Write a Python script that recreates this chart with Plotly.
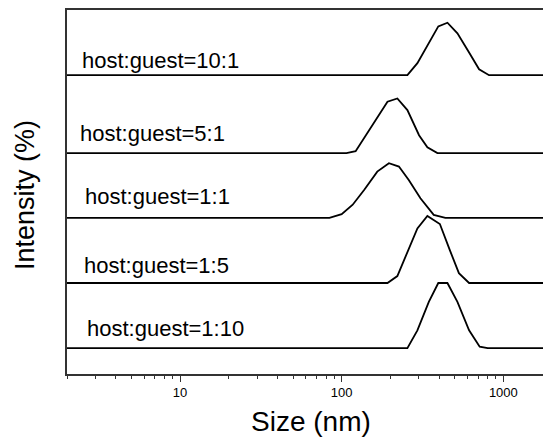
import plotly.graph_objects as go

# Size (nm) and intensity (%) for each sample; each curve shown with a vertical offset
labels = ["host:guest=10:1", "host:guest=5:1", "host:guest=1:1", "host:guest=1:5", "host:guest=1:10"]

size_10_1 = [1, 255, 294, 339, 396, 451, 520, 614, 708, 816, 10000]
int_10_1 = [0, 0, 3.3, 8.3, 13.4, 14.4, 11.5, 6.2, 1.6, 0, 0]

size_5_1 = [1, 107, 122, 141, 164, 192, 221, 255, 301, 339, 391, 10000]
int_5_1 = [0, 0, 0.5, 4.9, 9.5, 14.1, 15.0, 11.8, 4.9, 1.6, 0, 0]

size_1_1 = [1, 84, 100, 117, 138, 166, 196, 226, 260, 307, 371, 438, 10000]
int_1_1 = [0, 0, 1.0, 3.6, 7.7, 12.7, 15.0, 14.1, 10.4, 5.4, 0.8, 0, 0]

size_1_5 = [1, 192, 221, 260, 294, 339, 405, 466, 531, 614, 10000]
int_1_5 = [0, 0, 1.9, 9.1, 15.0, 18.4, 16.2, 9.1, 2.7, 0, 0]

size_1_10 = [1, 255, 294, 346, 396, 451, 520, 614, 714, 800, 10000]
int_1_10 = [0, 0, 4.9, 12.7, 17.9, 17.9, 12.7, 4.9, 0.4, 0, 0]

offsets = [82.1, 60.7, 42.9, 25.0, 7.1]

sizes = [size_10_1, size_5_1, size_1_1, size_1_5, size_1_10]
intensities = [int_10_1, int_5_1, int_1_1, int_1_5, int_1_10]

x_ticks = [10, 100, 1000]
x_tick_text = ["10", "100", "1000"]
x_minor = [m * d for d in (1, 10, 100, 1000) for m in range(2, 10)]

fig = go.Figure()
for s, iv, off in zip(sizes, intensities, offsets):
    fig.add_trace(go.Scatter(
        x=s, y=[v + off for v in iv], mode="lines",
        line=dict(color="black", width=1.8), showlegend=False, hoverinfo="skip"))

FONT = "Liberation Sans, Arial"
PW, PL, PB, PH = 485.0, 67.0, 374.0, 364.0
label_pos = [(80, 61), (78, 133), (83, 197), (82, 265), (85, 328)]
for lab, (px, py) in zip(labels, label_pos):
    fig.add_annotation(text=lab, xref="paper", yref="paper", x=(px - PL) / PW,
                       y=(PB - py) / PH, xanchor="left", yanchor="middle",
                       showarrow=False, font=dict(family=FONT, size=22, color="black"))

# axis titles
fig.add_annotation(text="Size (nm)", xref="paper", yref="paper",
                   x=(311 - PL) / PW, y=(PB - 421) / PH, xanchor="center", yanchor="middle",
                   showarrow=False, font=dict(family=FONT, size=28, color="black"))
fig.add_annotation(text="Intensity (%)", xref="paper", yref="paper", textangle=-90,
                   x=(25 - PL) / PW, y=(PB - 195) / PH, xanchor="center", yanchor="middle",
                   showarrow=False, font=dict(family=FONT, size=27, color="black"))

fig.update_layout(
    width=551, height=438,
    margin=dict(l=59, r=7, t=2, b=72),
    paper_bgcolor="white", plot_bgcolor="white",
    font=dict(family=FONT, color="black"),
)
fig.update_xaxes(
    type="log", range=[0.301, 3.301], automargin=False,
    tickvals=x_ticks, ticktext=x_tick_text,
    ticks="outside", ticklen=6, tickwidth=1.2, tickcolor="#333",
    minor=dict(tickvals=x_minor, ticks="outside", ticklen=3, tickwidth=1, tickcolor="#333", showgrid=False),
    showline=True, linecolor="#333", linewidth=1.5, mirror=True,
    showgrid=False, zeroline=False,
    tickfont=dict(size=13),
)
fig.update_yaxes(
    range=[0, 100], showticklabels=False, ticks="", automargin=False,
    showline=True, linecolor="#333", linewidth=1.5, mirror=False,
    showgrid=False, zeroline=False,
)

fig.write_html("out.html")
